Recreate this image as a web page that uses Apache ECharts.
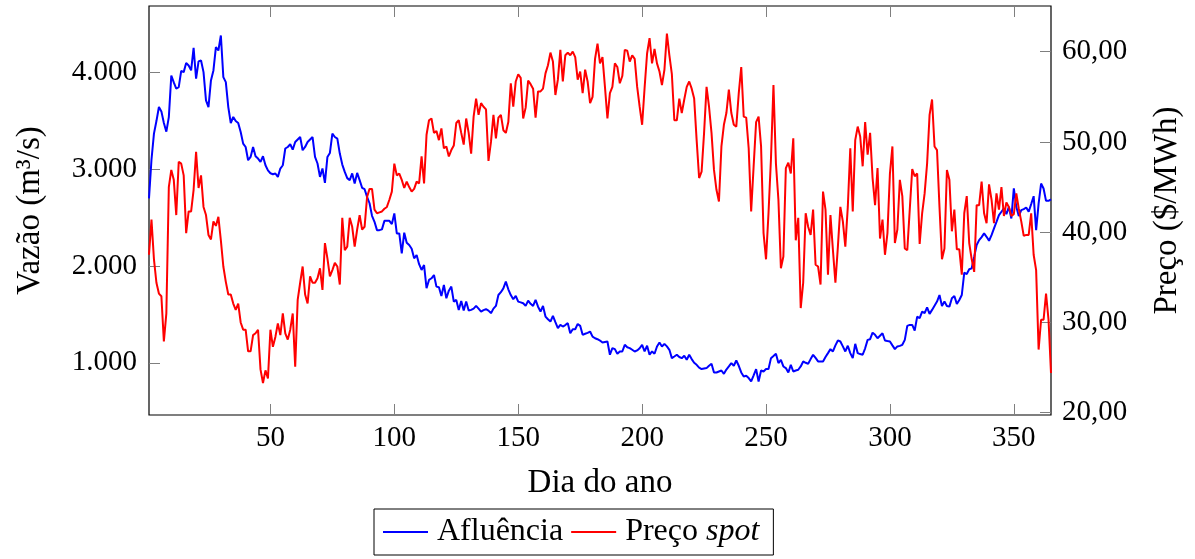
<!DOCTYPE html>
<html>
<head>
<meta charset="utf-8">
<script src="https://cdn.jsdelivr.net/npm/echarts@6/dist/echarts.min.js"></script>
<style>
  html, body { margin: 0; padding: 0; background: #fff; }
  #chart { width: 1195px; height: 559px; }
</style>
</head>
<body>
<div id="chart"></div>
<script>
// vazão afluente diária (m3/s), dia 1 a 365
const afluencia = [
  2700, 3100, 3370, 3500, 3645, 3600, 3480, 3390, 3540, 3970,
  3900, 3835, 3850, 4020, 4006, 4100, 4075, 4024, 4258, 3938,
  4117, 4127, 4006, 3714, 3645, 3920, 4024, 4264, 4230, 4385,
  3955, 3903, 3645, 3480, 3542, 3500, 3480, 3387, 3267, 3232,
  3095, 3129, 3232, 3136, 3112, 3077, 3136, 3043, 2990, 2960,
  2950, 2958, 2923, 3009, 3043, 3216, 3232, 3260, 3205, 3284,
  3310, 3335, 3198, 3232, 3284, 3310, 3335, 3129, 3061, 2923,
  3009, 2861, 3129, 3170, 3370, 3335, 3319, 3164, 3050, 2974,
  2910, 2889, 2958, 2854, 2964, 2889, 2810, 2795, 2716, 2650,
  2520, 2458, 2372, 2372, 2380, 2468, 2468, 2468, 2434, 2545,
  2338, 2338, 2132, 2345, 2242, 2218, 2180, 2080, 2115, 2020,
  1960, 2011, 1771, 1857, 1874, 1908, 1788, 1781, 1691, 1805,
  1668, 1746, 1788, 1633, 1650, 1547, 1640, 1540, 1633, 1540,
  1547, 1560, 1588, 1560, 1530, 1545, 1554, 1540, 1513, 1560,
  1588, 1701, 1730, 1770, 1839, 1760, 1700, 1657, 1691, 1633,
  1625, 1616, 1588, 1643, 1610, 1588, 1650, 1580, 1530, 1588,
  1478, 1450, 1426, 1485, 1420, 1358, 1392, 1375, 1390, 1410,
  1306, 1347, 1347, 1402, 1382, 1289, 1300, 1310, 1323, 1271,
  1254, 1244, 1230, 1209, 1215, 1220, 1083, 1152, 1141, 1093,
  1117, 1117, 1186, 1160, 1152, 1135, 1117, 1128, 1150, 1186,
  1117, 1176, 1083, 1117, 1093, 1169, 1209, 1169, 1196, 1170,
  1134, 1048, 1065, 1083, 1060, 1048, 1072, 1031, 1083, 1038,
  1000, 979, 950, 935, 940, 945, 970, 990, 900, 900,
  910, 920, 886, 930, 962, 997, 969, 1024, 969, 900,
  859, 866, 842, 807, 870, 935, 807, 920, 910, 935,
  935, 1048, 1070, 1093, 997, 1031, 962, 945, 900, 979,
  910, 920, 928, 962, 1014, 1000, 990, 1038, 1083, 1050,
  1014, 1014, 1014, 1060, 1100, 1141, 1117, 1180, 1231, 1220,
  1170, 1117, 1176, 1100, 1048, 1196, 1100, 1090, 1083, 1150,
  1237, 1244, 1312, 1289, 1254, 1280, 1306, 1231, 1225, 1220,
  1180, 1141, 1169, 1175, 1186, 1237, 1382, 1392, 1392, 1334,
  1478, 1461, 1530, 1513, 1574, 1506, 1547, 1590, 1633, 1701,
  1588, 1633, 1588, 1581, 1668, 1691, 1609, 1650, 1701, 1932,
  1918, 1967, 1977, 2097, 2218, 2269, 2300, 2338, 2303, 2262,
  2320, 2390, 2458, 2527, 2562, 2596, 2537, 2613, 2493, 2803,
  2613, 2517, 2579, 2590, 2606, 2562, 2641, 2723, 2372, 2647,
  2854, 2803, 2675, 2675, 2689
];

// preço spot diário ($/MWh)
const preco = [
  37.5, 41.4, 37.0, 34.4, 33.2, 32.9, 27.9, 31.0, 45.0, 46.9,
  45.8, 41.9, 47.8, 47.6, 46.3, 39.9, 42.3, 42.3, 44.7, 48.9,
  44.9, 46.3, 42.8, 41.9, 39.7, 39.2, 41.2, 40.7, 41.7, 39.1,
  36.2, 34.5, 33.1, 33.1, 32.1, 31.4, 32.1, 30.0, 29.2, 29.2,
  26.8, 26.8, 28.6, 28.8, 29.2, 24.8, 23.3, 24.7, 23.8, 29.2,
  27.3, 28.4, 29.9, 28.6, 31.0, 28.8, 28.1, 29.2, 31.0, 25.1,
  32.5, 34.4, 36.2, 33.1, 32.1, 35.1, 34.4, 34.4, 34.9, 36.0,
  33.6, 38.8, 37.1, 35.1, 35.8, 36.6, 36.2, 34.2, 41.6, 38.0,
  38.4, 41.6, 40.6, 38.4, 40.3, 41.9, 40.3, 40.6, 43.9, 44.8,
  44.8, 42.5, 42.1, 42.2, 42.3, 42.6, 42.8, 43.6, 44.5, 47.6,
  46.3, 46.5, 45.8, 44.9, 45.6, 45.0, 44.5, 44.8, 45.6, 45.4,
  48.4, 45.4, 50.8, 52.4, 52.6, 51.0, 51.2, 50.2, 51.5, 49.3,
  49.5, 48.4, 49.1, 49.6, 52.1, 52.4, 51.0, 49.7, 52.6, 51.0,
  48.7, 52.8, 54.8, 53.0, 54.3, 53.9, 53.6, 47.9, 50.0, 53.0,
  50.4, 52.7, 53.0, 51.3, 51.0, 52.2, 56.5, 53.9, 56.7, 57.5,
  57.1, 52.6, 53.8, 56.8, 56.4, 55.9, 52.7, 55.6, 55.6, 55.9,
  57.6, 58.5, 59.9, 58.9, 55.2, 56.9, 60.2, 56.7, 59.6, 59.9,
  59.6, 60.0, 59.4, 56.9, 57.8, 55.4, 58.0, 56.7, 54.3, 55.0,
  59.2, 60.9, 58.7, 59.4, 56.1, 52.6, 55.4, 56.1, 58.7, 58.3,
  56.5, 57.3, 60.2, 60.1, 58.9, 59.6, 59.2, 56.1, 53.9, 51.9,
  56.0, 59.8, 61.5, 58.7, 60.3, 58.7, 57.8, 56.3, 58.0, 62.0,
  59.6, 57.5, 52.4, 52.4, 54.8, 53.2, 54.7, 56.1, 56.7, 55.9,
  54.8, 50.2, 46.0, 46.7, 51.0, 56.1, 53.9, 51.0, 46.9, 44.7,
  43.4, 49.5, 51.9, 53.2, 55.8, 53.2, 51.9, 51.7, 55.4, 58.3,
  52.8, 52.7, 49.3, 42.3, 47.3, 52.2, 52.8, 49.5, 39.9, 37.0,
  42.1, 48.2, 56.3, 47.6, 43.6, 36.0, 37.3, 47.1, 47.7, 46.5,
  50.4, 39.1, 41.6, 31.6, 34.4, 42.1, 40.6, 39.7, 42.5, 36.4,
  36.2, 34.2, 44.5, 42.5, 35.3, 41.9, 38.0, 34.4, 38.4, 42.8,
  41.2, 38.4, 42.8, 49.3, 42.3, 50.2, 51.7, 50.6, 47.3, 52.2,
  48.6, 51.0, 46.0, 43.0, 47.1, 39.3, 41.4, 37.5, 39.9, 46.5,
  49.5, 38.8, 40.3, 45.8, 44.0, 38.2, 38.0, 42.5, 47.0, 46.2,
  46.5, 38.7, 42.1, 44.3, 47.6, 53.0, 54.7, 49.5, 49.1, 42.8,
  37.0, 38.2, 46.9, 45.8, 40.1, 42.5, 38.1, 38.1, 35.3, 42.1,
  44.0, 38.8, 37.0, 35.6, 43.0, 43.0, 45.6, 42.1, 41.0, 45.3,
  43.6, 41.0, 44.3, 42.5, 45.0, 41.8, 43.3, 42.8, 41.8, 42.0,
  44.3, 42.6, 41.2, 39.6, 39.7, 39.7, 42.1, 37.5, 35.8, 27.0,
  30.3, 30.3, 33.2, 30.3, 24.4
];

const xTicks = [50, 100, 150, 200, 250, 300, 350];
const vazaoTicks = [1000, 2000, 3000, 4000];
const precoTicks = [20, 30, 40, 50, 60];

const dias = afluencia.map((v, i) => i + 1);

const fonte = "'Liberation Serif', 'DejaVu Serif', serif";

function fmtMilhar(v) {
  return String(v).replace(/\B(?=(\d{3})+(?!\d))/g, ".");
}
function fmtPreco(v) {
  return v.toFixed(2).replace(".", ",");
}

const tickStyle = { show: true, inside: true, length: 11, lineStyle: { color: "#7f7f7f", width: 1 } };

let chart = echarts.init(document.getElementById("chart"));
chart.setOption({
  animation: false,
  textStyle: { fontFamily: fonte, color: "#000" },
  grid: {
    left: 149, right: 144, top: 6, bottom: 144,
    show: true, borderColor: "#000", borderWidth: 1.2, backgroundColor: "transparent"
  },
  legend: {
    left: 374, top: 509,
    padding: [7, 14, 7, 9],
    itemGap: 8,
    itemWidth: 45,
    itemHeight: 2,
    icon: "rect",
    borderColor: "#000",
    borderWidth: 1,
    borderRadius: 0,
    formatter: function (name) {
      if (name === "Preço spot") return "{n|Preço }{i|spot}";
      return "{n|" + name + "}";
    },
    textStyle: {
      fontFamily: fonte,
      fontSize: 32,
      color: "#000",
      padding: [0, 0, 0, 4],
      rich: {
        n: { fontFamily: fonte, fontSize: 32, color: "#000", lineHeight: 34 },
        i: { fontFamily: fonte, fontSize: 32, color: "#000", fontStyle: "italic", lineHeight: 34 }
      }
    },
    data: ["Afluência", "Preço spot"]
  },
  xAxis: [
    {
      type: "value", min: 1, max: 365, position: "bottom",
      axisLine: { show: false },
      splitLine: { show: false },
      axisTick: Object.assign({ customValues: xTicks }, tickStyle),
      axisLabel: { customValues: xTicks, fontSize: 29, margin: 9, color: "#000", fontFamily: fonte },
      name: "Dia do ano",
      nameLocation: "middle",
      nameGap: 52,
      nameTextStyle: { fontSize: 33, color: "#000", fontFamily: fonte }
    },
    {
      type: "value", min: 1, max: 365, position: "top",
      axisLine: { show: false },
      splitLine: { show: false },
      axisTick: Object.assign({ customValues: xTicks }, tickStyle),
      axisLabel: { show: false }
    }
  ],
  yAxis: [
    {
      type: "value", min: 460, max: 4690, position: "left",
      axisLine: { show: false },
      splitLine: { show: false },
      axisTick: Object.assign({ customValues: vazaoTicks }, tickStyle),
      axisLabel: { customValues: vazaoTicks, formatter: fmtMilhar, fontSize: 29, margin: 12, color: "#000", fontFamily: fonte },
      name: "Vazão (m³/s)",
      nameLocation: "middle",
      nameRotate: 90,
      nameGap: 102,
      nameTextStyle: { fontSize: 33, color: "#000", fontFamily: fonte }
    },
    {
      type: "value", min: 19.75, max: 65.06, position: "right",
      axisLine: { show: false },
      splitLine: { show: false },
      axisTick: Object.assign({ customValues: precoTicks }, tickStyle),
      axisLabel: { customValues: precoTicks, formatter: fmtPreco, fontSize: 29, margin: 11, color: "#000", fontFamily: fonte },
      name: "Preço ($/MWh)",
      nameLocation: "middle",
      nameRotate: 90,
      nameGap: 100,
      nameTextStyle: { fontSize: 33, color: "#000", fontFamily: fonte }
    }
  ],
  series: [
    {
      name: "Afluência",
      type: "line",
      xAxisIndex: 0,
      yAxisIndex: 0,
      symbol: "none",
      lineStyle: { color: "#0000ff", width: 2 },
      itemStyle: { color: "#0000ff" },
      data: dias.map((d, i) => [d, afluencia[i]])
    },
    {
      name: "Preço spot",
      type: "line",
      xAxisIndex: 0,
      yAxisIndex: 1,
      symbol: "none",
      lineStyle: { color: "#ff0000", width: 2 },
      itemStyle: { color: "#ff0000" },
      data: dias.map((d, i) => [d, preco[i]])
    }
  ]
});
</script>
</body>
</html>
